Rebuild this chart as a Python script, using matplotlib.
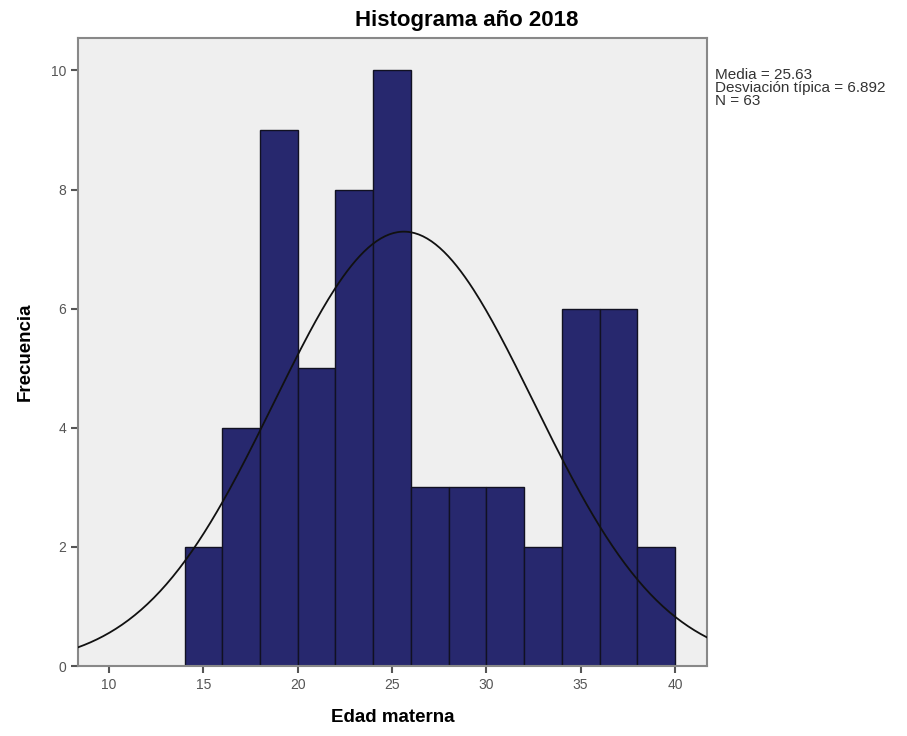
import numpy as np
import matplotlib.pyplot as plt

plt.rcParams['font.family'] = ['Liberation Sans', 'DejaVu Sans']

# Histograma de edad materna (bins de 2 años)
bin_edges = [14, 16, 18, 20, 22, 24, 26, 28, 30, 32, 34, 36, 38, 40]
counts = [2, 4, 9, 5, 8, 10, 3, 3, 3, 2, 6, 6, 2]
media = 25.63
desv = 6.892
n = 63

fig = plt.figure(figsize=(9.07, 7.36), dpi=100)
ax = fig.add_axes([0.086, 0.095, 0.6935, 0.853])
ax.set_facecolor("#efefef")

lefts = bin_edges[:-1]
widths = np.diff(bin_edges)
ax.bar(lefts, counts, width=widths, align="edge", color="#27286e",
       edgecolor="#111122", linewidth=1.0, zorder=2)

# curva normal escalada a frecuencias
x = np.linspace(8.35, 41.7, 300)
bw = 2
y = n * bw / (desv * np.sqrt(2 * np.pi)) * np.exp(-0.5 * ((x - media) / desv) ** 2)
ax.plot(x, y, color="#111111", linewidth=1.3, zorder=3)

ax.set_xlim(8.35, 41.7)
ax.set_ylim(0, 10.54)
ax.set_xticks([10, 15, 20, 25, 30, 35, 40])
ax.set_yticks([0, 2, 4, 6, 8, 10])
ax.tick_params(colors="#555555", labelsize=10, length=5, width=1.5)
for s in ax.spines.values():
    s.set_color("#888888")
    s.set_linewidth(1.5)

# titulo centrado sobre todo el grafico (como SPSS)
fig.text(0.515, 0.972, "Histograma año 2018", fontsize=16, fontweight="bold",
         ha="center", va="center")
ax.set_xlabel("Edad materna", fontsize=13.5, fontweight="bold", labelpad=12)
ax.set_ylabel("Frecuencia", fontsize=13.5, fontweight="bold", labelpad=12)

fig.text(0.788, 0.908, f"Media = {media}\nDesviación típica = {desv}\nN = {n}",
         fontsize=11, va="top", ha="left", color="#333333", linespacing=0.92)

fig.savefig("out.png", dpi=100)
